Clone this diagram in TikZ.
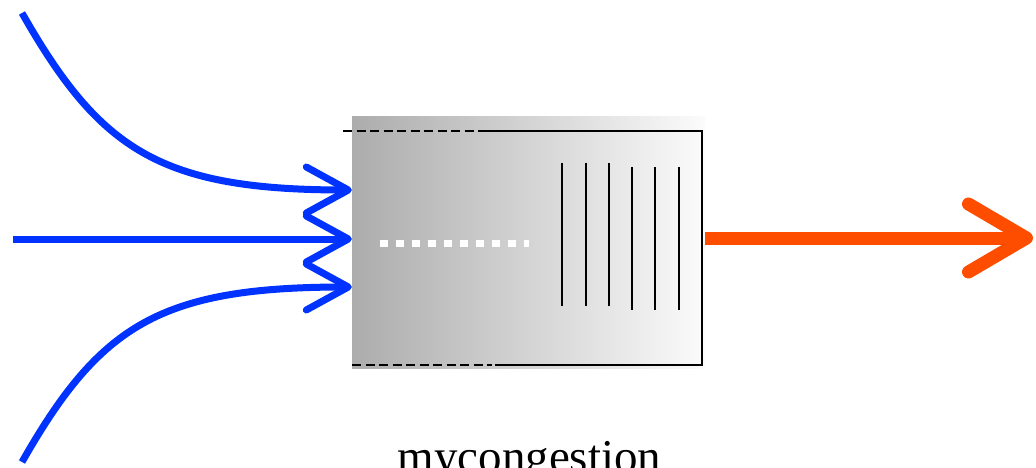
\documentclass[tikz,border=0pt]{standalone}
\usepackage{fontspec}
\setmainfont{Liberation Serif}
\usetikzlibrary{arrows.meta, positioning}
\definecolor{Miblue}{RGB}{0,51,255}
\definecolor{Miorange}{RGB}{255,77,0}

\begin{document}
\begin{tikzpicture}[x=1pt, y=-1pt,
  cola/.style  ={rectangle, inner sep=0pt,
                 minimum width=353pt, minimum height=251pt,
                 shade, left color=gray!65, right color=gray!3},
  inarr/.style ={-{Straight Barb[length=42pt, width=46pt, round]},
                 line width=7pt, color=Miblue},
  outarr/.style={-{Straight Barb[length=58pt, width=68pt, round]},
                 line width=13pt, color=Miorange},
  borde/.style ={line width=1.6pt, black},
  lbl/.style   ={font=\fontsize{47}{50}\selectfont, anchor=base},
]

\useasboundingbox (0,0) rectangle (1036,468);
\clip (0,0) rectangle (1036,468);

%% ═══════════════ COLA ═══════════════
\node[cola] (queue) at (528.5, 242.5) {};

% contorno
\draw[borde, dash pattern=on 9pt off 4.5pt] (343,131) -- (483,131);
\draw[borde] (483,131) -- (702,131) -- (702,365) -- (495,365);
\draw[borde, dash pattern=on 9pt off 4.5pt] (352,365) -- (492,365);

% paquetes en cola
\foreach \x in {562, 586, 609}
  \draw[line width=1.5pt] (\x,163) -- (\x,306);
\foreach \x in {632, 655, 679}
  \draw[line width=1.5pt] (\x,167) -- (\x,310);

% hueco punteado
\draw[white, line width=7pt, dash pattern=on 8pt off 8pt] (380,243) -- (529,243);

%% ═══════════════ ENTRADAS ═══════════════
\coordinate (src1) at (22, 13);
\coordinate (src2) at (13, 239);
\coordinate (src3) at (22, 462);

\draw[inarr] (src1) .. controls (100,150) and (160,190) .. ([yshift=52.5pt]queue.west);
\draw[inarr] (src2) -- ([yshift=3.5pt]queue.west);
\draw[inarr] (src3) .. controls (100,325) and (160,287) .. ([yshift=-44.5pt]queue.west);

%% ═══════════════ SALIDA ═══════════════
\coordinate (dst) at (1033, 238);
\draw[outarr] ([yshift=4.5pt]queue.east) -- (dst);

%% Etiqueta
\node[lbl] (name) at (529.5, 472) {mycongestion};

\end{tikzpicture}
\end{document}
